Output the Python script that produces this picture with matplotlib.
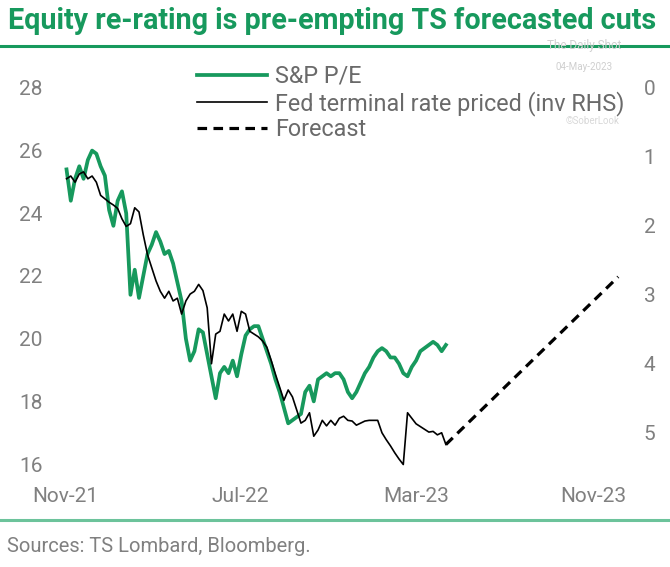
import matplotlib.pyplot as plt
import pandas as pd

# S&P 500 forward P/E (left axis)
sp_pe = [25.4, 24.4, 25.1, 25.5, 25.1, 25.7, 26.0, 25.9, 25.5, 25.2,
         24.1, 23.6, 24.4, 24.7, 24.0, 21.4, 22.2, 21.3, 22.0, 22.7,
         23.0, 23.4, 23.1, 22.7, 22.8, 22.4, 21.8, 21.2, 20.0, 19.3,
         19.6, 20.3, 20.2, 19.5, 18.8, 18.1, 18.9, 19.1, 18.9, 19.3,
         18.8, 19.5, 20.1, 20.3, 20.4, 20.4, 20.0, 19.6, 19.2, 18.7,
         18.3, 17.8, 17.3, 17.4, 17.5, 17.6, 18.3, 18.5, 18.0, 18.7,
         18.8, 18.9, 18.8, 18.9, 18.9, 18.7, 18.3, 18.1, 18.3, 18.6,
         18.9, 19.1, 19.4, 19.6, 19.7, 19.6, 19.4, 19.4, 19.2, 18.9,
         18.8, 19.1, 19.3, 19.6, 19.7, 19.8, 19.9, 19.8, 19.6, 19.8]

# Fed terminal rate priced, % (right axis, inverted)
fed_rate = [1.33, 1.29, 1.38, 1.26, 1.23, 1.33, 1.29, 1.38, 1.57, 1.62,
            1.67, 1.71, 1.76, 1.91, 2.02, 1.98, 1.75, 1.81, 2.14, 2.43,
            2.62, 2.81, 2.96, 3.06, 2.96, 3.10, 3.06, 3.29, 3.10, 3.00,
            2.96, 2.86, 2.95, 3.20, 4.01, 3.58, 3.54, 3.29, 3.39, 3.29,
            3.54, 3.25, 3.29, 3.54, 3.58, 3.62, 3.68, 3.77, 3.96, 4.16,
            4.35, 4.54, 4.39, 4.49, 4.68, 4.87, 4.83, 4.72, 5.06, 4.97,
            4.83, 4.91, 4.83, 4.90, 4.80, 4.77, 4.83, 4.84, 4.90, 4.87,
            4.84, 4.83, 4.83, 4.83, 5.01, 5.11, 5.20, 5.30, 5.39, 5.47,
            4.72, 4.80, 4.88, 4.92, 4.96, 5.00, 4.99, 5.04, 5.01, 5.18]

series_dates = pd.date_range("2021-11-03", "2023-04-11", periods=len(sp_pe))

forecast_dates = pd.to_datetime(["2023-04-11", "2023-12-05"])
forecast_rate = [5.18, 2.75]

tick_dates = pd.to_datetime(["2021-11-01", "2022-07-01", "2023-03-01", "2023-11-01"])
tick_labels = ["Nov-21", "Jul-22", "Mar-23", "Nov-23"]
left_ticks = [16, 18, 20, 22, 24, 26, 28]
right_ticks = [0, 1, 2, 3, 4, 5]

green = "#17995d"
grey = "#808080"
plt.rcParams['font.family'] = ['Roboto', 'DejaVu Sans']

fig = plt.figure(figsize=(6.7, 5.67), dpi=100)
ax = fig.add_axes([0.082, 0.171, 0.858, 0.7055])
ax2 = ax.twinx()

l1, = ax.plot(series_dates, sp_pe, color=green, lw=2.7, solid_joinstyle='round')
l2, = ax2.plot(series_dates, fed_rate, color='black', lw=1.2)
l3, = ax2.plot(forecast_dates, forecast_rate, color='black', lw=2.3, ls=(0, (3, 2)))

ax.set_ylim(15.81, 28.57)
ax2.set_ylim(5.55, -0.246)
ax.set_xlim(pd.Timestamp("2021-10-18"), pd.Timestamp("2023-12-21"))

ax.set_yticks(left_ticks)
ax2.set_yticks(right_ticks)
ax.set_xticks(tick_dates)
ax.set_xticklabels(tick_labels)

for a in (ax, ax2):
    for s in a.spines.values():
        s.set_visible(False)
    a.tick_params(length=0, labelsize=15, labelcolor=grey)
ax.tick_params(axis='y', pad=9)
ax.tick_params(axis='x', pad=12)
ax2.tick_params(axis='y', pad=10)

leg = ax.legend([l1, l2, l3],
                ["S&P P/E", "Fed terminal rate priced (inv RHS)", "Forecast"],
                loc='upper left', bbox_to_anchor=(0.231, 1.036), frameon=False,
                fontsize=16.8, handlelength=3.0, handletextpad=0.35,
                labelspacing=0.12, borderaxespad=0)
for t in leg.get_texts():
    t.set_color('#6a6a6a')

# title, rules, watermark and source
fig.text(0.012, 0.963, "Equity re-rating is pre-empting TS forecasted cuts",
         fontsize=20.7, fontweight='bold', color=green, va='center',
         family=['Liberation Sans Narrow', 'Roboto'])
fig.add_artist(plt.Line2D([0, 1], [1 - 46 / 567] * 2, color=green, lw=2.2))
fig.add_artist(plt.Line2D([0, 1], [1 - 520 / 567] * 2, color='#6cc39b', lw=2.2))
fig.text(0.010, 1 - 547 / 567, "Sources: TS Lombard, Bloomberg.",
         fontsize=14.5, color=grey, va='center')

fig.text(0.872, 1 - 45 / 567, "The Daily Shot", fontsize=8.5, color='#cfcfcf',
         ha='center', va='center')
fig.text(0.872, 1 - 67 / 567, "04-May-2023", fontsize=7, color='#cfcfcf',
         ha='center', va='center')
fig.text(0.885, 1 - 121 / 567, "\u00a9SoberLook", fontsize=7, color='#d8d8d8',
         ha='center', va='center', zorder=0)

fig.savefig("out.png", dpi=100)
